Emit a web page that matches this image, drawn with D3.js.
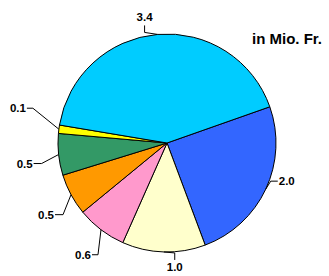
<!DOCTYPE html>
<html>
<head>
<meta charset="utf-8">
<script src="https://cdn.jsdelivr.net/npm/d3@7"></script>
<style>
  body { margin: 0; background: #fff; }
  svg { display: block; }
</style>
</head>
<body>
<div id="chart"></div>
<script>
// slices, clockwise starting with the blue one
var labels = ["2.0", "1.0", "0.6", "0.5", "0.5", "0.1", "3.4"];
var values = [2.0, 1.0, 0.6, 0.5, 0.5, 0.1, 3.4];
var colors = ["#3366ff", "#ffffcc", "#ff99cc", "#ff9900", "#339966", "#ffff00", "#00ccff"];
var unitLabel = "in Mio. Fr.";

// leader line layout: elbow offset from the slice edge, then the tail
var leader = [
  { ex: 5, ey: -8, tx: 7, ty: 0 },
  { ex: 11, ey: 1, tx: 0, ty: 7 },
  { ex: -3, ey: 25, tx: -6, ty: 0 },
  { ex: -8, ey: 20, tx: -8, ty: 0 },
  { ex: -17, ey: 9, tx: -8, ty: 0 },
  { ex: -26, ey: -21, tx: -6, ty: 0 },
  { ex: -13, ey: -2, tx: 0, ty: -7 }
];

function drawPie() {
  const dim = { width: 329, height: 276, cx: 167, cy: 143, r: 109 };
  var svg = d3
    .select("#chart")
    .append("svg")
    .attr("width", dim.width)
    .attr("height", dim.height);

  var g = svg.append("g")
    .attr("transform", "translate(" + dim.cx + "," + dim.cy + ")");

  var start = 70.6 * Math.PI / 180;
  var pie = d3.pie()
    .sort(null)
    .value(function (d) { return d; })
    .startAngle(start)
    .endAngle(start + 2 * Math.PI);
  var arcs = pie(values);

  var arc = d3.arc().innerRadius(0).outerRadius(dim.r);

  g.selectAll("path.slice")
    .data(arcs)
    .enter()
    .append("path")
    .attr("class", "slice")
    .attr("d", arc)
    .style("fill", function (d, i) { return colors[i]; })
    .style("stroke", "#000")
    .style("stroke-width", 1)
    .style("stroke-linejoin", "round");

  // labels with elbow leader lines
  arcs.forEach(function (d, i) {
    var mid = (d.startAngle + d.endAngle) / 2;
    var x0 = dim.r * Math.sin(mid);
    var y0 = -dim.r * Math.cos(mid);
    var L = leader[i];
    var x1 = x0 + L.ex, y1 = y0 + L.ey;
    var x2 = x1 + L.tx, y2 = y1 + L.ty;
    g.append("polyline")
      .attr("points", [[x0, y0], [x1, y1], [x2, y2]].map(function (p) { return p.join(","); }).join(" "))
      .style("fill", "none")
      .style("stroke", "#000")
      .style("stroke-width", 1);

    var t = g.append("text")
      .text(labels[i])
      .style("font-family", "'Liberation Sans', Arial, sans-serif")
      .style("font-weight", "bold")
      .style("font-size", "11.5px")
      .style("fill", "#000");
    if (L.tx !== 0) {
      t.attr("x", x2 + (L.tx > 0 ? 1 : -1))
        .attr("y", y2)
        .attr("dy", "0.36em")
        .attr("text-anchor", L.tx > 0 ? "start" : "end");
    } else {
      t.attr("x", x2)
        .attr("y", L.ty > 0 ? y2 + 11.5 : y2 - 4)
        .attr("text-anchor", "middle");
    }
  });

  svg.append("text")
    .attr("x", 252)
    .attr("y", 43.5)
    .text(unitLabel)
    .style("font-family", "'Liberation Sans', Arial, sans-serif")
    .style("font-weight", "bold")
    .style("font-size", "15px")
    .style("fill", "#000");
}

drawPie();
</script>
</body>
</html>
